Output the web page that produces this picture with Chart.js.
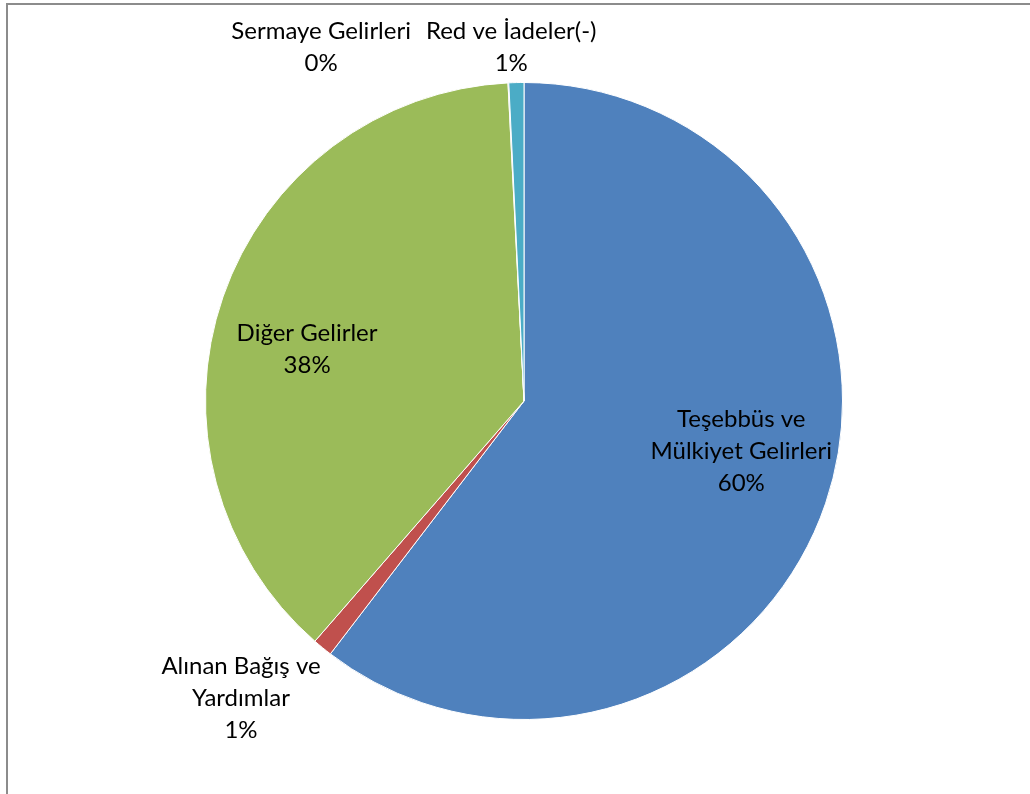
<!DOCTYPE html>
<html>
<head>
<meta charset="utf-8">
<script src="https://cdn.jsdelivr.net/npm/chart.js@4.4.1/dist/chart.umd.min.js"></script>
<style>
    html, body { margin: 0; padding: 0; background: #fff; overflow: hidden; }
    #wrap { position: relative; width: 1030px; height: 794px; }
    #frame { position: absolute; left: 6px; top: 3px; width: 1100px; height: 900px; border: 2px solid #8c8c8c; box-sizing: border-box; }
    #chart { position: absolute; left: 0; top: 0; }
</style>
</head>
<body>
<div id="wrap">
    <div id="frame"></div>
    <canvas id="chart" width="1030" height="794"></canvas>
</div>
<script>
// slices, clockwise from 12 o'clock
var categories = [
    ['Teşebbüs ve', 'Mülkiyet Gelirleri'],
    ['Alınan Bağış ve', 'Yardımlar'],
    ['Diğer Gelirler'],
    ['Sermaye Gelirleri'],
    ['Red ve İadeler(-)']
];
var shares = [60.4, 1.0, 37.8, 0.04, 0.76];
var colors = ['#4f81bd', '#c0504d', '#9bbb59', '#8064a2', '#4bacc6'];

var FONT = '24px Lato';
var LINE_H = 32;

function pctText(i) {
    var total = shares.reduce((a, b) => a + b, 0);
    return Math.round(shares[i] / total * 100) + '%';
}

// draws labels like excel's "best fit": inside when big enough, outside otherwise
var sliceLabels = {
    id: 'sliceLabels',
    afterDatasetsDraw(chart) {
        var ctx = chart.ctx;
        var arcs = chart.getDatasetMeta(0).data;
        ctx.save();
        ctx.font = FONT;
        ctx.fillStyle = '#000';
        ctx.textAlign = 'center';
        ctx.textBaseline = 'middle';

        var placed = [];
        // go backwards so the small top slices settle left of each other
        for (var i = arcs.length - 1; i >= 0; i--) {
            var arc = arcs[i];
            var lines = categories[i].concat([pctText(i)]);
            var w = Math.max(...lines.map(t => ctx.measureText(t).width));
            var h = lines.length * LINE_H;
            var mid = (arc.startAngle + arc.endAngle) / 2;
            var cx, cy;
            var span = arc.endAngle - arc.startAngle;
            if (span > 0.5) {
                var a = mid - 0.1;
                var rr = arc.outerRadius * 0.7;
                cx = arc.x + Math.cos(a) * rr;
                cy = arc.y + Math.sin(a) * rr;
            } else {
                var c = Math.cos(mid), s = Math.sin(mid);
                var ro = arc.outerRadius + 3;
                var ax = arc.x + c * ro, ay = arc.y + s * ro;
                var kx = Math.max(-1, Math.min(1, c * 2.5));
                var ky = Math.max(-1, Math.min(1, s * 2.5));
                cx = ax + kx * w / 2;
                cy = ay + ky * h / 2;
                // push left of any label it would overlap
                for (var p of placed) {
                    var overlapX = Math.abs(cx - p.x) < (w + p.w) / 2 + 15;
                    var overlapY = Math.abs(cy - p.y) < (h + p.h) / 2;
                    if (overlapX && overlapY) {
                        cx = p.x - p.w / 2 - 15 - w / 2;
                        cy = p.y + (h - p.h) / 2;
                    }
                }
                placed.push({x: cx, y: cy, w: w, h: h});
            }
            var y0 = cy - h / 2 + LINE_H / 2;
            lines.forEach((t, k) => ctx.fillText(t, cx, y0 + k * LINE_H));
        }
        ctx.restore();
    }
};

var myChart = new Chart(document.getElementById('chart'), {
    type: 'pie',
    data: {
        labels: categories.map(c => c.join(' ')),
        datasets: [{
            data: shares,
            backgroundColor: colors,
            borderColor: '#ffffff',
            borderWidth: 1
        }]
    },
    options: {
        responsive: false,
        animation: false,
        layout: { padding: { left: 205, right: 187, top: 82, bottom: 74 } },
        plugins: {
            legend: { display: false },
            tooltip: { enabled: false }
        }
    },
    plugins: [sliceLabels]
});
</script>
</body>
</html>
